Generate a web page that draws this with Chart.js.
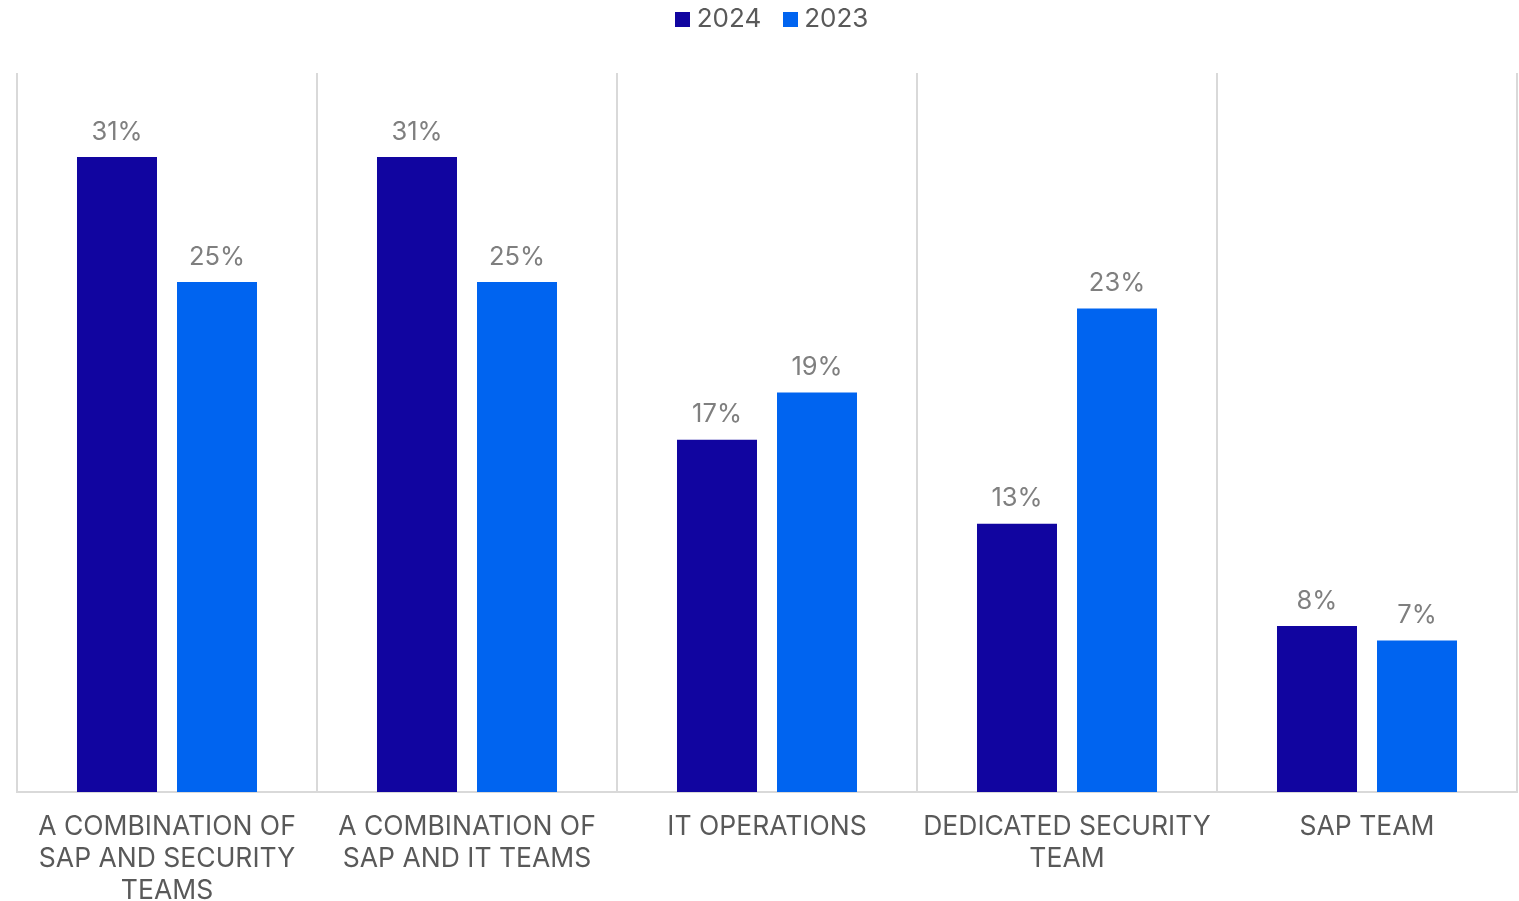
<!DOCTYPE html>
<html>
<head>
<meta charset="utf-8">
<script src="https://cdn.jsdelivr.net/npm/chart.js@4.4.1/dist/chart.umd.min.js"></script>
<style>
  html, body { margin: 0; padding: 0; background: #fff; }
  #wrap { width: 1519px; height: 901px; }
</style>
</head>
<body>
<div id="wrap"><canvas id="teamChart"></canvas></div>
<script>
// categories and series
var categories = [
    ['A COMBINATION OF', 'SAP AND SECURITY', 'TEAMS'],
    ['A COMBINATION OF', 'SAP AND IT TEAMS'],
    'IT OPERATIONS',
    ['DEDICATED SECURITY', 'TEAM'],
    'SAP TEAM'
];
var values2024 = [31, 31, 17.2, 13.1, 8.1];
var values2023 = [24.9, 24.9, 19.5, 23.6, 7.4];
var labels2024 = ['31%', '31%', '17%', '13%', '8%'];
var labels2023 = ['25%', '25%', '19%', '23%', '7%'];
var colors = ['#1105a0', '#0064f0'];

// small square used as legend marker
function squareMarker(color) {
    var c = document.createElement('canvas');
    c.width = 15;
    c.height = 15;
    var g = c.getContext('2d');
    g.fillStyle = color;
    g.fillRect(0, 0, 15, 15);
    return c;
}

// draws the percentage above each bar
const barLabels = {
    id: 'barLabels',
    afterDatasetsDraw: function (chart) {
        var ctx = chart.ctx;
        var texts = [labels2024, labels2023];
        ctx.save();
        ctx.font = '25.5px Inter';
        ctx.fillStyle = '#7f7f7f';
        ctx.textAlign = 'center';
        ctx.textBaseline = 'middle';
        chart.data.datasets.forEach(function (ds, i) {
            chart.getDatasetMeta(i).data.forEach(function (bar, j) {
                ctx.fillText(texts[i][j], bar.x, bar.y - 25);
            });
        });
        ctx.restore();
    }
};

// extra room under the legend, and nudge it a bit right
const legendGap = {
    id: 'legendGap',
    beforeInit: function (chart) {
        var fit = chart.legend.fit;
        chart.legend.fit = function () {
            fit.bind(chart.legend)();
            this.height += 31;
        };
    },
    afterLayout: function (chart) {
        chart.legend.left += 8;
        chart.legend.right += 8;
    }
};

Chart.defaults.font.family = 'Inter';
Chart.defaults.color = '#595959';

new Chart(document.getElementById('teamChart'), {
    type: 'bar',
    data: {
        labels: categories,
        datasets: [
            { label: '2024', data: values2024, backgroundColor: colors[0] },
            { label: '2023', data: values2023, backgroundColor: colors[1] }
        ]
    },
    options: {
        responsive: true,
        maintainAspectRatio: false,
        animation: false,
        categoryPercentage: 0.6667,
        barPercentage: 0.8,
        layout: {
            padding: { left: 17, right: 2, top: 0, bottom: 0 }
        },
        plugins: {
            legend: {
                position: 'top',
                labels: {
                    usePointStyle: true,
                    pointStyleWidth: 2,
                    boxHeight: 15,
                    padding: 6,
                    font: { size: 26 },
                    color: '#595959',
                    generateLabels: function (chart) {
                        var items = Chart.defaults.plugins.legend.labels.generateLabels(chart);
                        items.forEach(function (item, i) {
                            item.pointStyle = squareMarker(colors[i]);
                        });
                        items[0].text = items[0].text + '   ';
                        return items;
                    }
                }
            },
            tooltip: { enabled: false }
        },
        scales: {
            x: {
                afterFit: function (scale) {
                    scale.height = 109;
                },
                grid: {
                    color: '#d9d9d9',
                    lineWidth: 2,
                    drawTicks: false
                },
                border: { color: '#d9d9d9', width: 2 },
                ticks: {
                    font: { size: 26.5, lineHeight: 1.21 },
                    color: '#595959',
                    padding: 19,
                    maxRotation: 0,
                    autoSkip: false
                }
            },
            y: {
                display: false,
                min: 0,
                max: 35.1
            }
        }
    },
    plugins: [barLabels, legendGap]
});
</script>
</body>
</html>
